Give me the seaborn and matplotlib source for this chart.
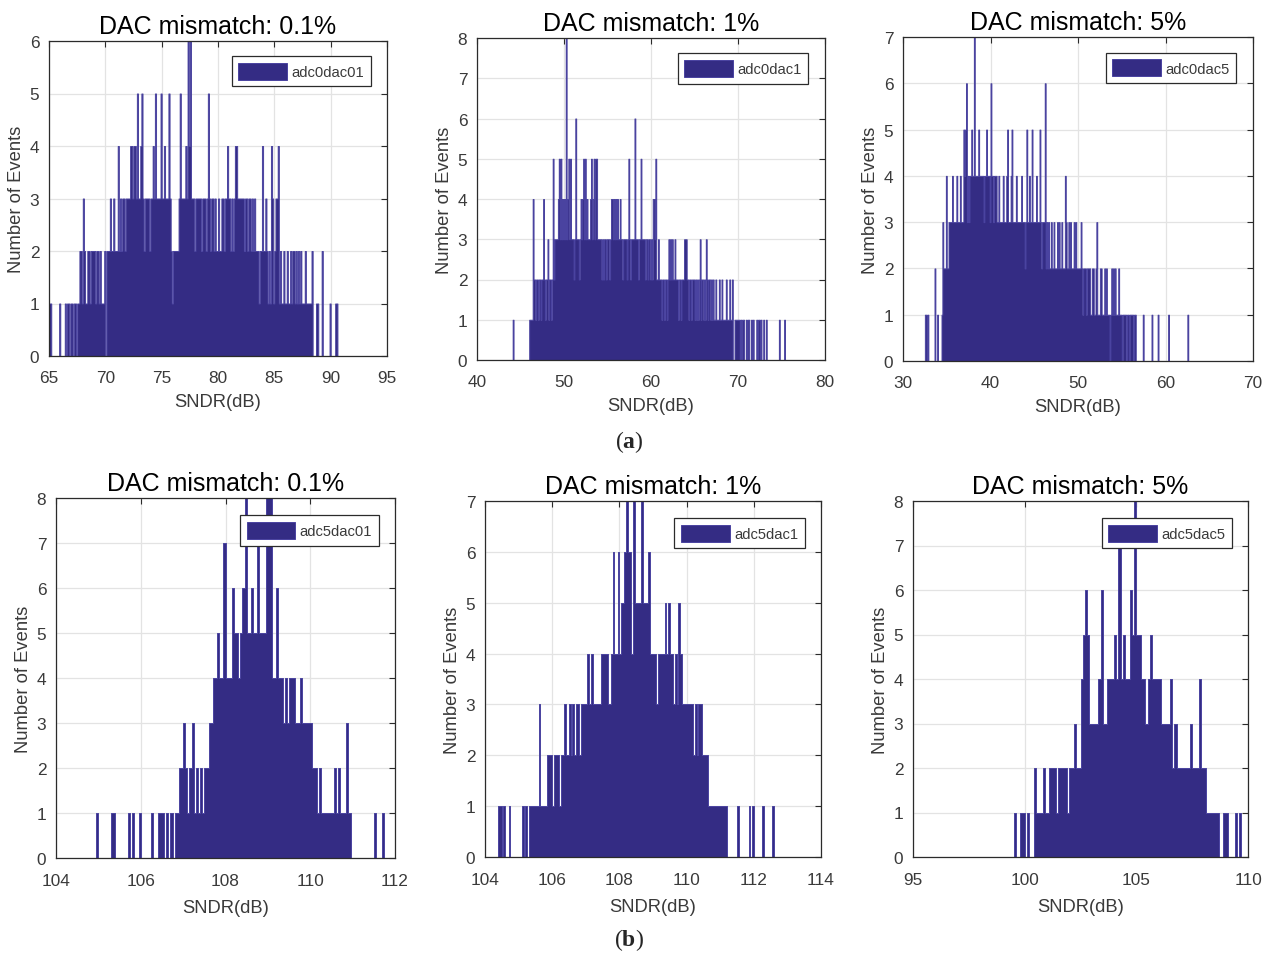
import numpy as np
import pandas as pd
import matplotlib
matplotlib.use("Agg")
import matplotlib.pyplot as plt
import seaborn as sns

# ---------------- data (bin counts) ----------------
# (a) adc0 row
adc0dac01_start, adc0dac01_width = 65.0, 0.1
adc0dac01_counts = [
    1, 1, 0, 0, 0, 0, 0, 0, 0, 1,   # 65
    0, 0, 0, 0, 1, 0, 1, 1, 0, 1,   # 66
    1, 0, 1, 1, 0, 1, 1, 2, 2, 1,   # 67
    3, 2, 1, 1, 2, 2, 1, 2, 2, 2,   # 68
    2, 1, 2, 2, 1, 2, 1, 1, 1, 2,   # 69
    0, 2, 2, 2, 3, 2, 2, 3, 2, 2,   # 70
    2, 4, 2, 3, 2, 3, 3, 2, 3, 3,   # 71
    3, 3, 4, 4, 3, 4, 4, 3, 5, 3,   # 72
    3, 4, 5, 3, 2, 3, 3, 3, 3, 2,   # 73
    3, 3, 4, 3, 5, 3, 3, 3, 3, 5,   # 74
    3, 3, 4, 3, 3, 3, 5, 3, 2, 1,   # 75
    2, 2, 2, 2, 2, 3, 5, 3, 3, 3,   # 76
    3, 4, 3, 6, 4, 6, 3, 3, 3, 2,   # 77
    3, 3, 3, 3, 3, 2, 3, 3, 3, 2,   # 78
    3, 5, 3, 2, 3, 3, 2, 3, 2, 2,   # 79
    3, 2, 2, 3, 3, 2, 3, 3, 4, 3,   # 80
    3, 2, 3, 2, 3, 4, 4, 3, 3, 3,   # 81
    3, 3, 3, 2, 3, 3, 2, 3, 3, 2,   # 82
    3, 2, 3, 2, 2, 2, 1, 2, 2, 4,   # 83
    2, 2, 3, 2, 1, 2, 1, 4, 3, 1,   # 84
    2, 3, 3, 4, 1, 2, 1, 1, 2, 1,   # 85
    1, 2, 1, 1, 2, 1, 2, 2, 1, 2,   # 86
    1, 2, 1, 2, 1, 1, 1, 2, 1, 1,   # 87
    1, 1, 1, 2, 0, 0, 0, 1, 1, 0,   # 88
    0, 0, 2, 0, 0, 0, 0, 0, 0, 1,   # 89
    0, 0, 0, 0, 1, 1,               # 90
]

adc0dac1_start, adc0dac1_width = 44.0, 0.1
adc0dac1_counts = [
    0, 1, 0, 0, 0, 0, 0, 0, 0, 0,   # 44
    0, 0, 0, 0, 0, 0, 0, 0, 0, 0,   # 45
    1, 1, 1, 1, 4, 2, 2, 1, 2, 2,   # 46
    1, 2, 2, 1, 2, 2, 4, 2, 1, 2,   # 47
    2, 3, 1, 2, 2, 1, 2, 5, 2, 3,   # 48
    3, 3, 3, 4, 5, 3, 5, 3, 4, 3,   # 49
    4, 3, 8, 3, 4, 5, 3, 5, 3, 3,   # 50
    3, 2, 3, 6, 3, 3, 3, 2, 3, 4,   # 51
    3, 4, 5, 3, 5, 3, 4, 3, 3, 3,   # 52
    4, 5, 3, 4, 5, 3, 5, 5, 3, 3,   # 53
    3, 3, 3, 2, 3, 2, 3, 3, 2, 3,   # 54
    3, 3, 2, 3, 4, 4, 3, 4, 3, 4,   # 55
    3, 4, 3, 3, 4, 3, 3, 2, 3, 3,   # 56
    3, 3, 2, 3, 5, 3, 2, 3, 3, 3,   # 57
    3, 6, 3, 3, 3, 2, 3, 3, 5, 3,   # 58
    3, 3, 3, 2, 3, 3, 2, 3, 3, 2,   # 59
    3, 2, 4, 4, 3, 5, 2, 2, 3, 2,   # 60
    2, 2, 1, 2, 2, 1, 2, 2, 1, 2,   # 61
    3, 2, 3, 2, 3, 2, 2, 3, 2, 2,   # 62
    2, 1, 2, 2, 1, 2, 2, 2, 3, 3,   # 63
    3, 2, 2, 1, 2, 2, 1, 2, 2, 2,   # 64
    1, 2, 1, 2, 1, 2, 3, 1, 2, 2,   # 65
    1, 2, 1, 3, 2, 1, 2, 2, 1, 2,   # 66
    1, 2, 1, 1, 2, 1, 1, 1, 2, 1,   # 67
    1, 2, 1, 1, 1, 1, 2, 1, 1, 1,   # 68
    2, 1, 1, 2, 0, 0, 1, 1, 1, 1,   # 69
    1, 1, 0, 1, 0, 1, 1, 0, 0, 1,   # 70
    0, 1, 1, 0, 0, 1, 0, 1, 0, 0,   # 71
    0, 1, 0, 1, 1, 0, 1, 0, 0, 1,   # 72
    0, 0, 1, 0, 0, 0, 0, 0, 0, 0,   # 73
    0, 0, 0, 0, 0, 0, 0, 1, 0, 0,   # 74
    0, 0, 0, 1, 0,                  # 75
]

adc0dac5_start, adc0dac5_width = 32.0, 0.1
adc0dac5_counts = [
    0, 0, 0, 0, 0, 1, 1, 0, 1, 0,   # 32
    0, 0, 0, 0, 0, 0, 2, 0, 0, 1,   # 33
    0, 0, 0, 0, 1, 3, 2, 2, 2, 4,   # 34
    2, 2, 3, 3, 3, 3, 4, 3, 3, 3,   # 35
    3, 4, 3, 3, 3, 4, 3, 3, 3, 5,   # 36
    4, 5, 6, 3, 4, 3, 4, 4, 5, 4,   # 37
    4, 7, 4, 4, 4, 4, 5, 4, 4, 4,   # 38
    4, 4, 3, 4, 4, 5, 4, 4, 4, 3,   # 39
    6, 4, 4, 3, 4, 4, 4, 3, 3, 4,   # 40
    3, 3, 3, 3, 4, 3, 3, 3, 4, 5,   # 41
    3, 3, 3, 4, 5, 3, 3, 3, 3, 4,   # 42
    3, 3, 3, 3, 3, 4, 3, 3, 3, 2,   # 43
    3, 5, 3, 3, 4, 3, 3, 5, 3, 3,   # 44
    3, 3, 4, 3, 3, 3, 5, 3, 2, 3,   # 45
    3, 3, 6, 2, 3, 2, 3, 2, 2, 3,   # 46
    2, 2, 3, 2, 2, 2, 3, 2, 3, 2,   # 47
    2, 3, 2, 2, 2, 4, 3, 2, 2, 3,   # 48
    2, 3, 2, 2, 2, 3, 2, 3, 2, 2,   # 49
    2, 2, 2, 3, 2, 1, 2, 2, 2, 1,   # 50
    2, 2, 2, 2, 1, 1, 2, 2, 1, 1,   # 51
    2, 3, 1, 1, 1, 2, 2, 1, 1, 1,   # 52
    2, 1, 2, 1, 1, 1, 0, 1, 2, 1,   # 53
    2, 1, 2, 1, 1, 1, 2, 1, 1, 1,   # 54
    0, 1, 1, 1, 1, 0, 1, 1, 0, 1,   # 55
    1, 1, 1, 0, 1, 1, 0, 0, 0, 0,   # 56
    0, 0, 0, 0, 1, 0, 0, 0, 0, 0,   # 57
    0, 0, 0, 0, 1, 0, 0, 0, 0, 0,   # 58
    0, 1, 0, 0, 0, 0, 0, 0, 0, 0,   # 59
    0, 0, 0, 1, 0, 0, 0, 0, 0, 0,   # 60
    0, 0, 0, 0, 0, 0, 0, 0, 0, 0,   # 61
    0, 0, 0, 0, 0, 1,               # 62
]

# (b) adc5 row
adc5dac01_start, adc5dac01_width = 104.95, 0.05
adc5dac01_counts = [
    1,                                                              # 104.95
    0, 0, 0, 0, 0, 0, 1, 1, 0, 0, 0, 0, 0, 0, 1, 0, 1, 0, 0, 1,     # 105
    0, 0, 0, 0, 0, 1, 0, 0, 1, 1, 1, 0, 1, 0, 1, 0, 1, 1, 2, 2,     # 106
    3, 2, 1, 2, 3, 1, 2, 1, 2, 1, 2, 2, 3, 3, 4, 4, 5, 4, 4, 7,     # 107
    4, 4, 4, 6, 5, 5, 4, 5, 6, 8, 5, 5, 6, 5, 5, 7, 5, 5, 5, 8,     # 108
    8, 8, 4, 4, 6, 4, 4, 3, 4, 3, 4, 4, 4, 3, 3, 4, 3, 3, 3, 3,     # 109
    3, 2, 2, 1, 2, 1, 1, 1, 1, 1, 1, 2, 1, 2, 1, 1, 1, 3, 1, 0,     # 110
    0, 0, 0, 0, 0, 0, 0, 0, 0, 0, 1, 0, 0, 0, 1, 0,                 # 111
]

adc5dac1_start, adc5dac1_width = 104.4, 0.05
adc5dac1_counts = [
    1, 1, 0, 1, 0, 0, 1, 0, 0, 0, 0, 0,                             # 104.4
    0, 0, 1, 0, 1, 0, 1, 1, 1, 1, 1, 1, 3, 1, 1, 1, 1, 2, 2, 2,     # 105
    1, 2, 2, 2, 1, 2, 2, 3, 2, 2, 3, 2, 3, 2, 3, 3, 2, 3, 3, 3,     # 106
    3, 4, 3, 4, 3, 3, 3, 3, 3, 4, 4, 4, 4, 3, 3, 4, 6, 4, 4, 6,     # 107
    4, 5, 5, 6, 7, 6, 6, 4, 7, 5, 5, 5, 5, 7, 5, 5, 5, 6, 4, 4,     # 108
    4, 4, 3, 4, 4, 4, 4, 5, 4, 5, 4, 4, 3, 4, 3, 5, 4, 3, 3, 3,     # 109
    3, 3, 3, 3, 2, 3, 2, 3, 3, 2, 2, 2, 2, 1, 1, 1, 1, 1, 1, 1,     # 110
    1, 1, 1, 1, 0, 0, 0, 0, 0, 0, 1, 0, 0, 0, 0, 0, 0, 1, 0, 1,     # 111
    0, 0, 0, 0, 0, 1, 0, 0, 0, 0, 0, 1, 0,                          # 112
]

adc5dac5_start, adc5dac5_width = 99.5, 0.1
adc5dac5_counts = [
    1, 0, 0, 1, 1,                  # 99.5
    0, 1, 0, 0, 2, 1, 1, 1, 2, 1,   # 100
    1, 2, 2, 2, 1, 2, 2, 2, 2, 1,   # 101
    2, 2, 3, 2, 2, 4, 5, 6, 5, 3,   # 102
    3, 3, 3, 4, 6, 3, 3, 4, 4, 4,   # 103
    5, 4, 7, 4, 5, 4, 4, 6, 5, 8,   # 104
    5, 5, 4, 4, 3, 4, 5, 4, 4, 4,   # 105
    4, 3, 3, 3, 3, 4, 2, 3, 2, 2,   # 106
    2, 2, 2, 2, 3, 2, 2, 2, 4, 2,   # 107
    2, 1, 1, 1, 1, 1, 1, 0, 0, 1,   # 108
    1, 0, 0, 0, 1, 0, 1,            # 109
]

titles = ["DAC mismatch: 0.1%", "DAC mismatch: 1%", "DAC mismatch: 5%",
          "DAC mismatch: 0.1%", "DAC mismatch: 1%", "DAC mismatch: 5%"]
legend_labels = ["adc0dac01", "adc0dac1", "adc0dac5",
                 "adc5dac01", "adc5dac1", "adc5dac5"]
x_limits = [(65, 95), (40, 80), (30, 70), (104, 112), (104, 114), (95, 110)]
x_ticks = [[65, 70, 75, 80, 85, 90, 95], [40, 50, 60, 70, 80],
           [30, 40, 50, 60, 70], [104, 106, 108, 110, 112],
           [104, 106, 108, 110, 112, 114], [95, 100, 105, 110]]
y_max = [6, 8, 7, 8, 7, 8]
x_label = "SNDR(dB)"
y_label = "Number of Events"
row_labels = ["a", "b"]

series = [
    (adc0dac01_start, adc0dac01_width, adc0dac01_counts),
    (adc0dac1_start, adc0dac1_width, adc0dac1_counts),
    (adc0dac5_start, adc0dac5_width, adc0dac5_counts),
    (adc5dac01_start, adc5dac01_width, adc5dac01_counts),
    (adc5dac1_start, adc5dac1_width, adc5dac1_counts),
    (adc5dac5_start, adc5dac5_width, adc5dac5_counts),
]

# ---------------- style ----------------
sns.set_theme(style="whitegrid")
plt.rcParams["font.family"] = ["Liberation Sans", "DejaVu Sans"]
plt.rcParams["mathtext.fontset"] = "custom"
plt.rcParams["mathtext.rm"] = "Liberation Serif"
plt.rcParams["mathtext.bf"] = "Liberation Serif:bold"

BAR = "#342c84"
EDGE = "#4a43a0"
TXT = "#3a3a3a"

W, H = 1272, 954
fig = plt.figure(figsize=(W / 100, H / 100), dpi=100)
fig.patch.set_facecolor("white")

# axes boxes in pixels: left, right, top, bottom
boxes = [(49, 387, 42, 357), (477, 825, 39, 361), (903, 1253, 38, 362),
         (56, 395, 499, 859), (485, 821, 502, 858), (913, 1248, 502, 858)]

for i, (l, r, t, b) in enumerate(boxes):
    ax = fig.add_axes([l / W, 1 - b / H, (r - l) / W, (b - t) / H])
    start, width, counts = series[i]
    edges = start + width * np.arange(len(counts) + 1)
    df = pd.DataFrame({"sndr": edges[:-1] + width / 2,
                       "n": np.asarray(counts, dtype=float)})
    sns.histplot(data=df, x="sndr", weights="n", bins=list(edges), ax=ax,
                 element="step", fill=True, color=BAR, alpha=1.0,
                 edgecolor=EDGE, linewidth=0.7, label=legend_labels[i])
    ax.set_xlim(*x_limits[i])
    ax.set_ylim(0, y_max[i])
    ax.set_xticks(x_ticks[i])
    ax.set_yticks(range(0, y_max[i] + 1))
    ax.set_axisbelow(True)
    ax.grid(True, color="#e3e3e3", linewidth=0.9)
    for s in ax.spines.values():
        s.set_color("#2b2b2b")
        s.set_linewidth(0.9)
    top_row = i < 3
    ax.tick_params(axis="x", pad=10 if top_row else 11)
    ax.tick_params(axis="y", pad=7)
    ax.tick_params(axis="both", direction="in", length=4, width=0.8,
                   colors="#2b2b2b", labelcolor=TXT, labelsize=12.4,
                   top=True, right=True)
    ax.set_xlabel(x_label, fontsize=13.2, color=TXT,
                  labelpad=6 if top_row else 8)
    ax.set_ylabel(y_label, fontsize=13.2, color=TXT, labelpad=3)
    ax.set_title(titles[i], fontsize=18, color="black", pad=6)
    leg = ax.legend(loc="upper right", bbox_to_anchor=(0.952, 0.952),
                    borderaxespad=0, fontsize=10.6, handlelength=3.3,
                    handleheight=1.4, handletextpad=0.3, borderpad=0.45,
                    fancybox=False, framealpha=1, edgecolor="#2b2b2b")
    leg.get_frame().set_linewidth(0.9)
    for txt in leg.get_texts():
        txt.set_color(TXT)

fig.text(629 / W, 1 - 442 / H, r"($\mathbf{%s}$)" % row_labels[0],
         ha="center", va="center", fontsize=17, family="Liberation Serif")
fig.text(629 / W, 1 - 940 / H, r"($\mathbf{%s}$)" % row_labels[1],
         ha="center", va="center", fontsize=17, family="Liberation Serif")

fig.savefig("out.png", dpi=100, facecolor="white")
